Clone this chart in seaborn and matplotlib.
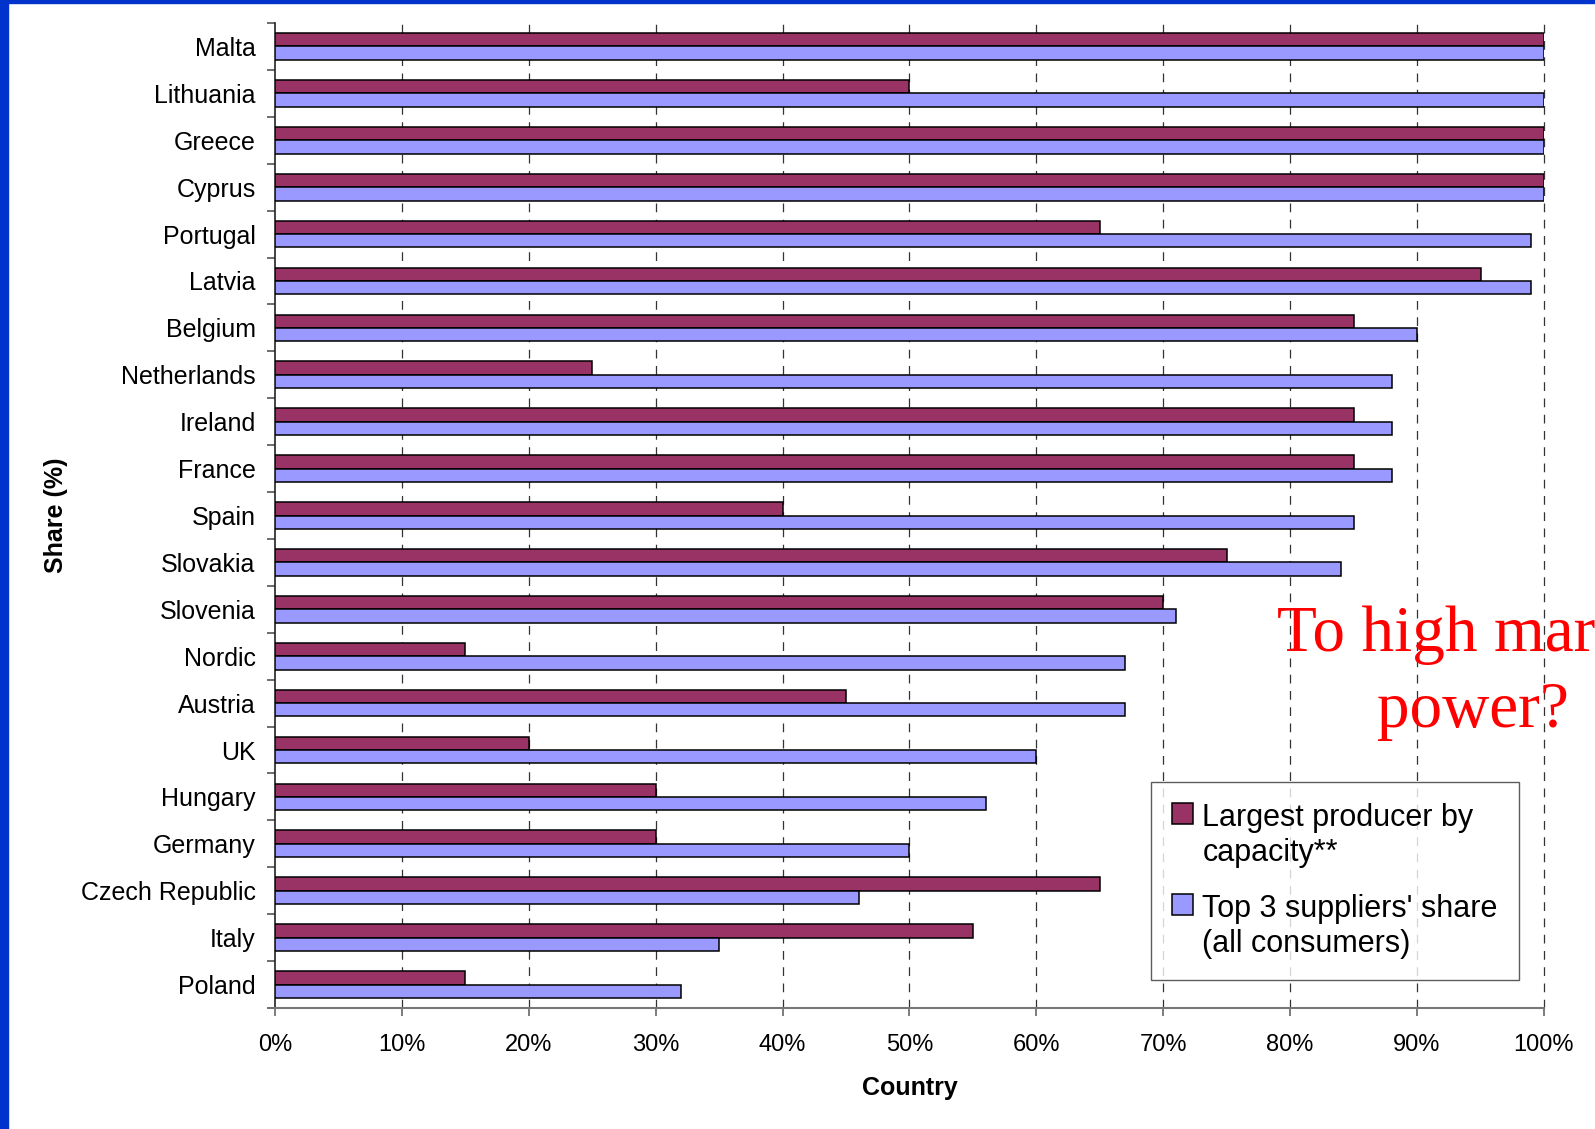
import numpy as np
import pandas as pd
import seaborn as sns
import matplotlib.pyplot as plt
from matplotlib.patches import Rectangle
from matplotlib.ticker import PercentFormatter

# data, top to bottom
countries = ['Malta', 'Lithuania', 'Greece', 'Cyprus', 'Portugal', 'Latvia',
             'Belgium', 'Netherlands', 'Ireland', 'France', 'Spain', 'Slovakia',
             'Slovenia', 'Nordic', 'Austria', 'UK', 'Hungary', 'Germany',
             'Czech Republic', 'Italy', 'Poland']
largest_producer = [100, 50, 100, 100, 65, 95, 85, 25, 85, 85, 40, 75,
                    70, 15, 45, 20, 30, 30, 65, 55, 15]
top3_share = [100, 100, 100, 100, 99, 99, 90, 88, 88, 88, 85, 84,
              71, 67, 67, 60, 56, 50, 46, 35, 32]
series_names = ['Largest producer by\ncapacity**', "Top 3 suppliers' share\n(all consumers)"]
series_colors = ['#993366', '#9999FF']

df = pd.DataFrame({
    'country': countries * 2,
    'share': largest_producer + top3_share,
    'series': [series_names[0]] * len(countries) + [series_names[1]] * len(countries),
})

sns.set_style('white')
plt.rcParams['font.family'] = ['Liberation Sans', 'DejaVu Sans']
plt.rcParams['text.color'] = 'black'
plt.rcParams['axes.labelcolor'] = 'black'
plt.rcParams['xtick.color'] = 'black'
plt.rcParams['ytick.color'] = 'black'

fig = plt.figure(figsize=(15.95, 11.29), dpi=100)
ax = fig.add_axes([0.1724, 0.1072, 0.968 - 0.1724, 0.9796 - 0.1072])

sns.barplot(data=df, x='share', y='country', hue='series', order=countries,
            hue_order=series_names, palette=series_colors, width=0.57,
            edgecolor='black', linewidth=1.1, saturation=1, ax=ax, zorder=3)

ax.set_xlim(0, 100)
ax.set_ylim(len(countries) - 0.5, -0.5)
ax.set_xticks(np.arange(0, 101, 10))
ax.xaxis.set_major_formatter(PercentFormatter(decimals=0))
for x in range(10, 101, 10):
    ax.axvline(x, color='#333333', lw=0.9, ls=(0, (7, 6)), zorder=1, clip_on=False)

# y ticks sit between categories
ax.set_yticks(np.arange(-0.5, len(countries), 1), minor=True)
ax.tick_params(axis='y', which='major', length=0, pad=14, labelsize=18)
ax.tick_params(axis='y', which='minor', length=6, width=1.2, color='#555555', left=True)
ax.tick_params(axis='x', length=6, width=1.2, color='#666666', bottom=True,
               pad=13, labelsize=17)

for s in ['top', 'right']:
    ax.spines[s].set_visible(False)
ax.spines['left'].set_color('#222222')
ax.spines['left'].set_linewidth(1.2)
ax.spines['bottom'].set_color('#777777')
ax.spines['bottom'].set_linewidth(1.5)

ax.set_xlabel('Country', fontsize=18, fontweight='bold', labelpad=14)
ax.set_ylabel('Share (%)', fontsize=18, fontweight='bold', labelpad=0)
ax.yaxis.set_label_coords(-0.163, 0.5)

handles, labels = ax.get_legend_handles_labels()
leg = ax.legend(handles, labels, loc='upper left', bbox_to_anchor=(0.7216, 0.3074),
                bbox_transform=fig.transFigure, borderaxespad=0, fontsize=22,
                frameon=True, fancybox=False, edgecolor='#333333',
                handlelength=0.68, handleheight=0.68, handletextpad=0.3,
                labelspacing=0.85, borderpad=0.7)
leg.get_frame().set_linewidth(1.0)
# put the colour squares next to the first line of each label
for col in leg._legend_handle_box.get_children():
    for item in col.get_children():
        item.align = 'top'

# annotation and slide border
fig.text(1277 / 1595, 1 - 651 / 1129, 'To high market', color='red', fontsize=47,
         family=['Liberation Serif', 'DejaVu Serif'], ha='left', va='baseline')
fig.text(1377 / 1595, 1 - 727 / 1129, 'power?', color='red', fontsize=47,
         family=['Liberation Serif', 'DejaVu Serif'], ha='left', va='baseline')
fig.add_artist(Rectangle((0, 0), 8 / 1595, 1, transform=fig.transFigure,
                         color='#0033CC', zorder=10))
fig.add_artist(Rectangle((0, 1 - 3 / 1129), 1, 3 / 1129, transform=fig.transFigure,
                         color='#0033CC', zorder=10))

fig.savefig('out.png', dpi=100)
